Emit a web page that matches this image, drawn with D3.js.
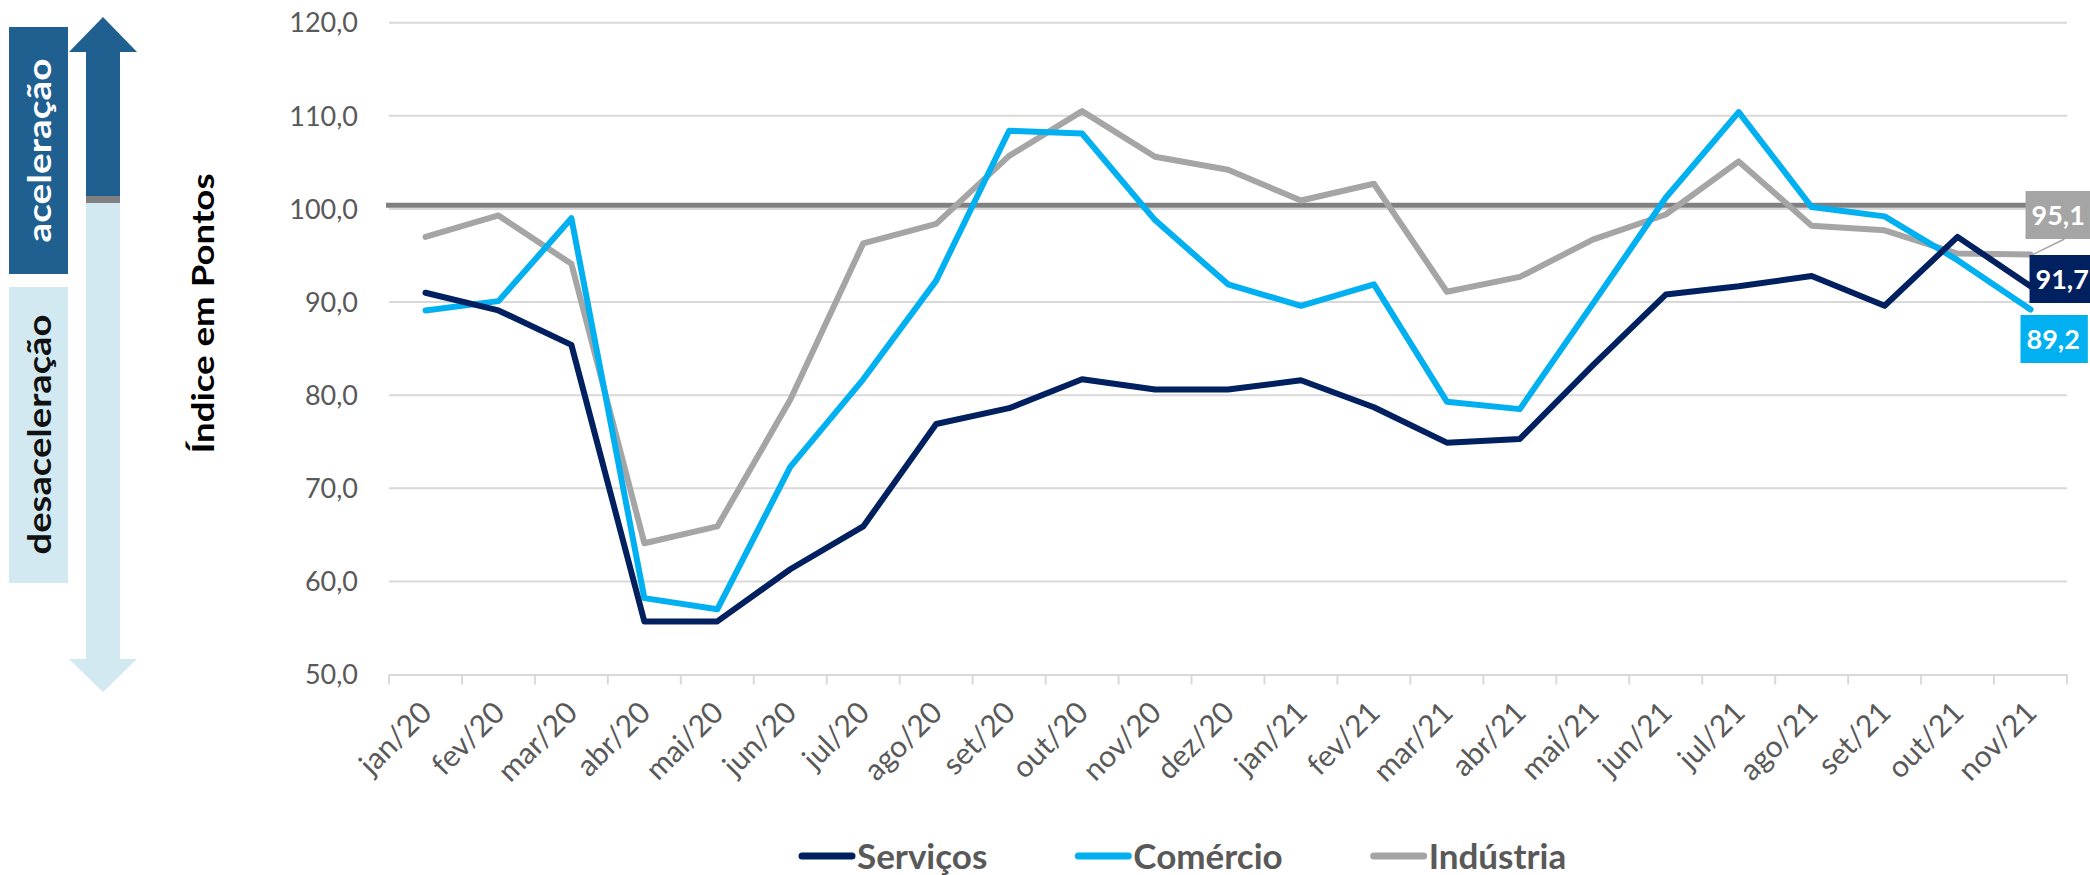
<!DOCTYPE html>
<html>
<head>
<meta charset="utf-8">
<script src="https://cdn.jsdelivr.net/npm/d3@7/dist/d3.min.js"></script>
<style>
  html, body { margin: 0; padding: 0; background: #fff; }
  svg { display: block; font-family: Lato, "Open Sans", sans-serif; }
</style>
</head>
<body>
<svg id="chart" width="2090" height="875"></svg>
<script>
// ---- data ----
const categories = ["jan/20","fev/20","mar/20","abr/20","mai/20","jun/20","jul/20","ago/20","set/20","out/20","nov/20","dez/20",
                    "jan/21","fev/21","mar/21","abr/21","mai/21","jun/21","jul/21","ago/21","set/21","out/21","nov/21"];
const servicos  = [91.0, 89.1, 85.4, 55.7, 55.7, 61.3, 65.9, 76.9, 78.6, 81.7, 80.6, 80.6, 81.6, 78.7, 74.9, 75.3, 83.2, 90.8, 91.7, 92.8, 89.6, 97.0, 91.7];
const comercio  = [89.1, 90.1, 99.0, 58.2, 57.0, 72.3, 81.7, 92.3, 108.4, 108.1, 98.8, 91.9, 89.6, 91.9, 79.3, 78.5, 89.8, 101.2, 110.4, 100.2, 99.2, 94.5, 89.2];
const industria = [97.0, 99.3, 94.1, 64.1, 65.9, 79.5, 96.3, 98.4, 105.7, 110.5, 105.6, 104.2, 100.9, 102.7, 91.1, 92.7, 96.7, 99.4, 105.1, 98.2, 97.7, 95.2, 95.1];
const seriesNames = ["Serviços", "Comércio", "Indústria"];
const yTicks = [50, 60, 70, 80, 90, 100, 110, 120];
const referenceValue = 100.4;
const axisTitle = "Índice em Pontos";
const upLabel = "aceleração";
const downLabel = "desaceleração";

// ---- styles ----
const colors = ["#002060", "#00B0F0", "#A5A5A5"];
const seriesValues = [servicos, comercio, industria];
const fmt = v => d3.format(".1f")(v).replace(".", ",");

const svg = d3.select("#chart");
const x = d3.scaleBand().domain(categories).range([389, 2067]);
const y = d3.scaleLinear().domain([50, 120]).range([674.5, 22.7]);
const cx = d => x(d) + x.bandwidth() / 2;

// gridlines
svg.append("g").selectAll("line").data(yTicks.filter(t => t > 50)).join("line")
  .attr("x1", 389).attr("x2", 2067)
  .attr("y1", d => y(d)).attr("y2", d => y(d))
  .attr("stroke", "#D9D9D9").attr("stroke-width", 2);

// y tick labels
svg.append("g").selectAll("text").data(yTicks).join("text")
  .attr("x", 358).attr("y", d => y(d)).attr("dy", "0.36em")
  .attr("text-anchor", "end").attr("font-size", 27).attr("fill", "#595959")
  .text(fmt);

// x axis
const xAxis = d3.axisBottom(x).tickSize(0).tickFormat("");
const gx = svg.append("g").attr("transform", `translate(0,${y(50)})`).call(xAxis);
gx.select(".domain").attr("stroke", "#D9D9D9").attr("stroke-width", 2);
const bounds = categories.map(c => x(c)).concat([x.range()[1]]);
svg.append("g").selectAll("line").data(bounds).join("line")
  .attr("x1", d => d).attr("x2", d => d)
  .attr("y1", y(50)).attr("y2", y(50) + 10)
  .attr("stroke", "#D9D9D9").attr("stroke-width", 2);

// x labels
svg.append("g").selectAll("text").data(categories).join("text")
  .attr("transform", d => `translate(${cx(d) + 8},${y(50) + 40}) rotate(-45)`)
  .attr("text-anchor", "end").attr("font-size", 30).attr("fill", "#595959")
  .text(d => d);

// reference line
svg.append("line")
  .attr("x1", 386).attr("x2", 2067)
  .attr("y1", y(referenceValue)).attr("y2", y(referenceValue))
  .attr("stroke", "#808080").attr("stroke-width", 5);

// series lines
const line = d3.line().x((d, i) => cx(categories[i])).y(d => y(d));
svg.append("g").selectAll("path").data([2, 1, 0]).join("path")
  .attr("d", k => line(seriesValues[k]))
  .attr("fill", "none").attr("stroke", k => colors[k])
  .attr("stroke-width", 6).attr("stroke-linejoin", "round").attr("stroke-linecap", "round");

// end labels
const last = categories.length - 1;
const endX = cx(categories[last]);
const labelBoxes = [
  { k: 2, x: endX - 5, y: 191 },
  { k: 0, x: endX - 1, y: 255 },
  { k: 1, x: endX - 10, y: 315 }
];
// leader for Indústria
svg.append("line")
  .attr("x1", endX + 2).attr("y1", y(industria[last]))
  .attr("x2", endX + 34).attr("y2", 239)
  .attr("stroke", colors[2]).attr("stroke-width", 1.5);
labelBoxes.forEach(b => {
  const g = svg.append("g");
  const t = g.append("text")
    .attr("x", b.x + 6).attr("y", b.y + 24).attr("dy", "0.36em")
    .attr("font-size", 27).attr("font-weight", 700).attr("fill", "#fff")
    .text(fmt(seriesValues[b.k][last]));
  const w = t.node().getComputedTextLength() + 14;
  g.insert("rect", "text").attr("x", b.x).attr("y", b.y).attr("width", w).attr("height", 48)
    .attr("fill", colors[b.k]);
});

// y axis title
svg.append("text")
  .attr("transform", "translate(214,313.5) rotate(-90)")
  .attr("text-anchor", "middle").attr("font-size", 31).attr("font-weight", 700).attr("fill", "#000")
  .attr("textLength", 280).attr("lengthAdjust", "spacingAndGlyphs")
  .text(axisTitle);

// left panel: boxes
const dark = "#1F6091", light = "#D3E9F1";
svg.append("rect").attr("x", 9).attr("y", 27).attr("width", 59).attr("height", 247).attr("fill", dark);
svg.append("rect").attr("x", 9).attr("y", 287).attr("width", 59).attr("height", 296).attr("fill", light);
svg.append("text")
  .attr("transform", "translate(51,150.5) rotate(-90)")
  .attr("text-anchor", "middle").attr("font-size", 32).attr("font-weight", 700).attr("fill", "#fff")
  .attr("textLength", 184).attr("lengthAdjust", "spacingAndGlyphs")
  .text(upLabel);
svg.append("text")
  .attr("transform", "translate(51,434.5) rotate(-90)")
  .attr("text-anchor", "middle").attr("font-size", 32).attr("font-weight", 700).attr("fill", "#111")
  .attr("textLength", 240).attr("lengthAdjust", "spacingAndGlyphs")
  .text(downLabel);

// arrow
svg.append("path")
  .attr("d", "M103,17 L137,52 L120,52 L120,197 L86,197 L86,52 L69,52 Z")
  .attr("fill", dark);
svg.append("path")
  .attr("d", "M86,202 L120,202 L120,659 L137,659 L103,692 L69,659 L86,659 Z")
  .attr("fill", light);
svg.append("rect").attr("x", 86).attr("y", 196).attr("width", 34).attr("height", 7).attr("fill", "#808080");

// legend
const legend = svg.append("g");
let lx = 799;
seriesNames.forEach((name, i) => {
  legend.append("line").attr("x1", lx + 3).attr("x2", lx + 53).attr("y1", 856).attr("y2", 856)
    .attr("stroke", colors[i]).attr("stroke-width", 7).attr("stroke-linecap", "round");
  const t = legend.append("text").attr("x", lx + 58).attr("y", 856).attr("dy", "0.36em")
    .attr("font-size", 35).attr("font-weight", 700).attr("fill", "#595959").text(name);
  lx += 58 + t.node().getComputedTextLength() + 88;
});
</script>
</body>
</html>
